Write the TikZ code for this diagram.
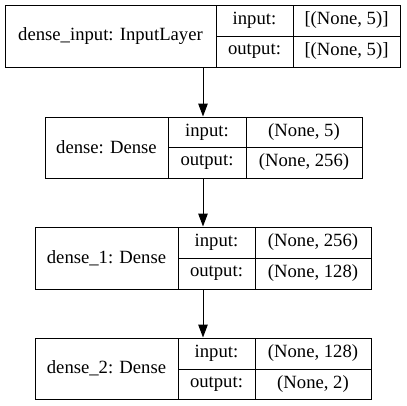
\documentclass[tikz,border=0pt]{standalone}
\usepackage{fontspec}
\setmainfont{Liberation Serif}
\usetikzlibrary{arrows.meta}
\tikzset{
  cell/.style={inner sep=0pt, font=\fontsize{18.67}{22}\selectfont},
  flow/.style={line width=1pt, -{Triangle[length=13pt,width=9.5pt]}},
  rec/.style={draw, line width=1pt, inner sep=0pt, minimum width=#1}
}
% #1 name, #2 x left, #3 x div1, #4 x div2, #5 x right, #6 y top, #7 y mid, #8 y bottom
% #9 layer text, #10 input value, #11 output value
\newcommand{\kerasrec}[9]{%
  \def\recname{#1}\def\xa{#2}\def\xb{#3}\def\xc{#4}\def\xd{#5}%
  \def\ya{#6}\def\ym{#7}\def\yb{#8}\def\rectxt{#9}\kerasrecb}
\newcommand{\kerasrecb}[2]{%
  \node[draw, line width=1pt, inner sep=0pt, minimum width={(\xd-\xa)*1pt}, minimum height={(\yb-\ya)*1pt}]
    (\recname) at ({(\xa+\xd)/2},{-(\ya+\yb)/2}) {};
  \draw[line width=1pt] (\xb,-\ya) -- (\xb,-\yb);
  \draw[line width=1pt] (\xc,-\ya) -- (\xc,-\yb);
  \draw[line width=1pt] (\xb,-\ym) -- (\xd,-\ym);
  \node[cell] (\recname-name) at ({(\xa+\xb)/2},{-(\ya+\yb)/2}) {\rectxt};
  \node[cell] (\recname-il) at ({(\xb+\xc)/2},{-(\ya+\ym)/2}) {input:};
  \node[cell] (\recname-ol) at ({(\xb+\xc)/2},{-(\ym+\yb)/2}) {output:};
  \node[cell] (\recname-iv) at ({(\xc+\xd)/2},{-(\ya+\ym)/2}) {#1};
  \node[cell] (\recname-ov) at ({(\xc+\xd)/2},{-(\ym+\yb)/2}) {#2};
}
\begin{document}
\begin{tikzpicture}[x=1pt,y=1pt]
\useasboundingbox (0,0) rectangle (407,-405);
\kerasrec{L1}{5}{216}{293}{400}{5}{36}{67}{dense\_input: InputLayer}{[(None, 5)]}{[(None, 5)]}
\kerasrec{L2}{45}{168}{246}{362}{117}{147}{178}{dense: Dense}{(None, 5)}{(None, 256)}
\kerasrec{L3}{35}{178}{255}{371}{227}{258}{289}{dense\_1: Dense}{(None, 256)}{(None, 128)}
\kerasrec{L4}{35}{178}{255}{371}{338}{369}{399}{dense\_2: Dense}{(None, 128)}{(None, 2)}
\coordinate (a1) at (203,-67);
\coordinate (a2) at (203,-178);
\coordinate (a3) at (203,-289);
\draw[flow] (a1) -- (a1 |- L2.north);
\draw[flow] (a2) -- (a2 |- L3.north);
\draw[flow] (a3) -- (a3 |- L4.north);
\end{tikzpicture}
\end{document}
